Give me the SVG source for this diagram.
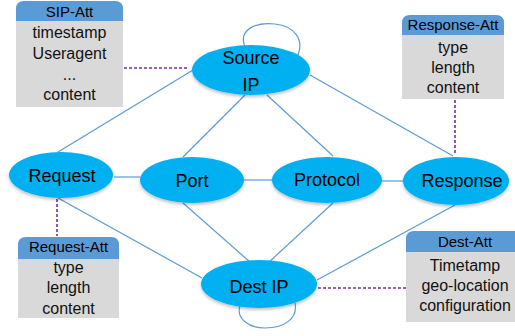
<svg xmlns="http://www.w3.org/2000/svg" width="515" height="336" viewBox="0 0 515 336">
<defs>
<style>
.node{fill:#00b0f0;filter:url(#sh)}
.nl{font-family:"Liberation Sans",Arial,sans-serif;font-size:18px;fill:#000;text-anchor:middle}
.hd{fill:#5b9bd5}
.bd{fill:#d9d9d9}
.ht{font-family:"Liberation Sans",Arial,sans-serif;font-size:15px;fill:#000;text-anchor:middle}
.bt{font-family:"Liberation Sans",Arial,sans-serif;font-size:16px;fill:#111;text-anchor:middle}
.edge{stroke:#5b9bd5;stroke-width:1.2;fill:none}
.dash{stroke:#7030a0;stroke-width:1.6;stroke-dasharray:3,2;fill:none}
</style>
<filter id="sh" x="-20%" y="-20%" width="140%" height="150%">
<feDropShadow dx="0" dy="2" stdDeviation="1.5" flood-color="#000" flood-opacity="0.25"/>
</filter>
</defs>
<rect width="515" height="336" fill="#fff"/>
<g id="connectors">
<path class="edge" d="M245,47 C238,30 255,22 275,24 C295,26 304,40 298,55"/>
<path class="edge" d="M240,306 C236,318 248,328 265,328 C285,328 298,318 295,303"/>
<line class="edge" x1="193" y1="70" x2="58" y2="152"/>
<line class="edge" x1="245" y1="95" x2="183" y2="157"/>
<line class="edge" x1="267" y1="95" x2="333" y2="156"/>
<line class="edge" x1="310" y1="75" x2="453" y2="156"/>
<line class="edge" x1="114" y1="177" x2="140" y2="177"/>
<line class="edge" x1="244" y1="180" x2="272" y2="180"/>
<line class="edge" x1="382" y1="181" x2="403" y2="181"/>
<line class="edge" x1="58" y1="198" x2="202" y2="278"/>
<line class="edge" x1="183" y1="203" x2="250" y2="262"/>
<line class="edge" x1="333" y1="203" x2="268" y2="263"/>
<line class="edge" x1="455" y1="205" x2="317" y2="280"/>
<line class="dash" x1="124" y1="68" x2="188" y2="68"/>
<line class="dash" x1="455" y1="100" x2="455" y2="155"/>
<line class="dash" x1="57" y1="199" x2="57" y2="236"/>
<line class="dash" x1="318" y1="288" x2="406" y2="288"/>
</g>
<g id="source-ip">
<ellipse class="node" cx="251" cy="70" rx="59" ry="25"/>
<text class="nl" x="251" y="64">Source</text>
<text class="nl" x="251" y="91">IP</text>
</g>
<g id="request">
<ellipse class="node" cx="61" cy="175" rx="52" ry="23"/>
<text class="nl" x="62" y="182">Request</text>
</g>
<g id="port">
<ellipse class="node" cx="192" cy="180" rx="52" ry="23"/>
<text class="nl" x="192" y="187">Port</text>
</g>
<g id="protocol">
<ellipse class="node" cx="327" cy="180" rx="55" ry="23"/>
<text class="nl" x="327" y="186">Protocol</text>
</g>
<g id="response">
<ellipse class="node" cx="456" cy="181" rx="53" ry="24"/>
<text class="nl" x="462" y="187">Response</text>
</g>
<g id="dest-ip">
<ellipse class="node" cx="259" cy="284" rx="58" ry="24"/>
<text class="nl" x="259" y="293">Dest IP</text>
</g>
<g id="sip-att">
<rect class="bd" x="16" y="21" width="107" height="86"/>
<path class="hd" d="M16,21 V9 Q16,1 24,1 H115 Q123,1 123,9 V21 Z"/>
<text class="ht" x="69.5" y="17">SIP-Att</text>
<text class="bt" x="69.5" y="38">timestamp</text>
<text class="bt" x="69.5" y="59">Useragent</text>
<text class="bt" x="69.5" y="80">...</text>
<text class="bt" x="69.5" y="100">content</text>
</g>
<g id="response-att">
<rect class="bd" x="402" y="35" width="102" height="64"/>
<path class="hd" d="M402,35 V23 Q402,15 410,15 H496 Q504,15 504,23 V35 Z"/>
<text class="ht" x="453" y="30">Response-Att</text>
<text class="bt" x="453" y="53">type</text>
<text class="bt" x="453" y="73">length</text>
<text class="bt" x="453" y="93">content</text>
</g>
<g id="request-att">
<rect class="bd" x="18" y="259" width="101" height="59"/>
<path class="hd" d="M18,259 V245 Q18,237 26,237 H111 Q119,237 119,245 V259 Z"/>
<text class="ht" x="68.5" y="252">Request-Att</text>
<text class="bt" x="68.5" y="273">type</text>
<text class="bt" x="68.5" y="293">length</text>
<text class="bt" x="68.5" y="314">content</text>
</g>
<g id="dest-att">
<rect class="bd" x="406" y="252" width="118" height="70"/>
<path class="hd" d="M406,252 V239 Q406,231 414,231 H516 Q524,231 524,239 V252 Z"/>
<text class="ht" x="465" y="247">Dest-Att</text>
<text class="bt" x="465" y="271">Timetamp</text>
<text class="bt" x="465" y="291">geo-location</text>
<text class="bt" x="465" y="311">configuration</text>
</g>
</svg>
